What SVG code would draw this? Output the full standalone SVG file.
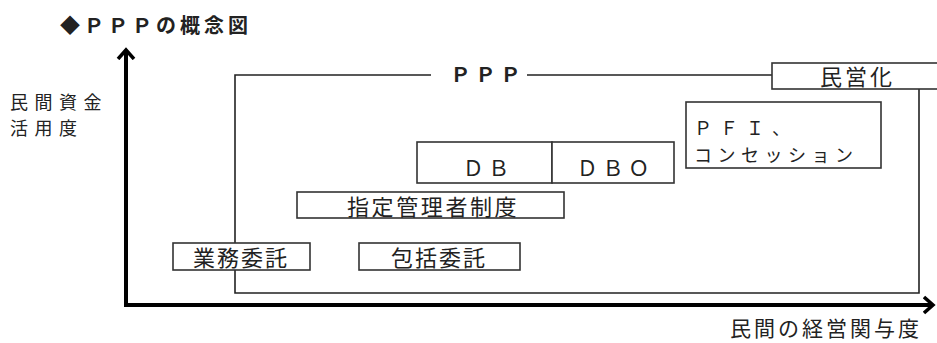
<svg xmlns="http://www.w3.org/2000/svg" width="937" height="343" viewBox="0 0 937 343">
<defs>
<style>
.t{font-family:"Noto Sans CJK JP","Noto Sans",sans-serif;fill:#222;font-size:22px}
.b{fill:#fff;stroke:#333;stroke-width:1.6}
.ln{stroke:#222;stroke-width:1.6;fill:none}
.ax{stroke:#000;stroke-width:4;fill:none}
</style>
<marker id="ah" viewBox="-10 -12 20 24" markerWidth="5" markerHeight="6" refX="0" refY="0" orient="auto" markerUnits="strokeWidth">
<path d="M-9,-8 L0,0 L-9,8" fill="none" stroke="#000" stroke-width="3.5" stroke-linejoin="miter"/>
</marker>
</defs>
<rect width="937" height="343" fill="#fff"/>
<text class="t" x="60" y="33" style="font-size:20px;font-weight:bold;letter-spacing:4px">◆ＰＰＰの概念図</text>
<text class="t" x="10" y="109" style="font-size:18px;letter-spacing:6.5px">民間資金</text>
<text class="t" x="10" y="135" style="font-size:18px;letter-spacing:6.5px">活用度</text>
<g id="ppp">
<path class="ln" d="M772,75 H527 M431,75 H235 V293 H919 V89"/>
<text class="t" x="488" y="82" text-anchor="middle" style="font-size:20px;font-weight:bold;letter-spacing:5px">ＰＰＰ</text>
</g>
<g id="minei">
<rect class="b" x="772" y="63" width="180" height="26"/>
<text class="t" x="820" y="85" style="letter-spacing:3px">民営化</text>
</g>
<g id="pfi">
<rect class="b" x="686" y="102" width="195" height="66"/>
<text class="t" x="694" y="135" style="font-size:18px;letter-spacing:8px">ＰＦＩ、</text>
<text class="t" x="694" y="162" style="font-size:18px;letter-spacing:5.5px">コンセッション</text>
</g>
<g id="db">
<rect class="b" x="417" y="142" width="135" height="41"/>
<text class="t" x="486" y="176" text-anchor="middle" style="font-size:21px">Ｄ Ｂ</text>
</g>
<g id="dbo">
<rect class="b" x="552" y="142" width="122" height="41"/>
<text class="t" x="613" y="176" text-anchor="middle" style="font-size:21px">Ｄ Ｂ Ｏ</text>
</g>
<g id="shitei">
<rect class="b" x="297" y="192" width="267" height="26"/>
<text class="t" x="347" y="215" style="letter-spacing:2.6px">指定管理者制度</text>
</g>
<g id="gyomu">
<rect class="b" x="173" y="243" width="137" height="27"/>
<text class="t" x="193" y="266" style="letter-spacing:2px">業務委託</text>
</g>
<g id="hokatsu">
<rect class="b" x="359" y="243" width="161" height="27"/>
<text class="t" x="391" y="266" style="letter-spacing:2px">包括委託</text>
</g>
<g id="connectors">
<path class="ax" d="M126,305 V50" marker-end="url(#ah)"/>
<path class="ax" d="M124,305 H933" marker-end="url(#ah)"/>
</g>
<text class="t" x="730" y="336" style="font-size:21px;letter-spacing:3px">民間の経営関与度</text>
</svg>
